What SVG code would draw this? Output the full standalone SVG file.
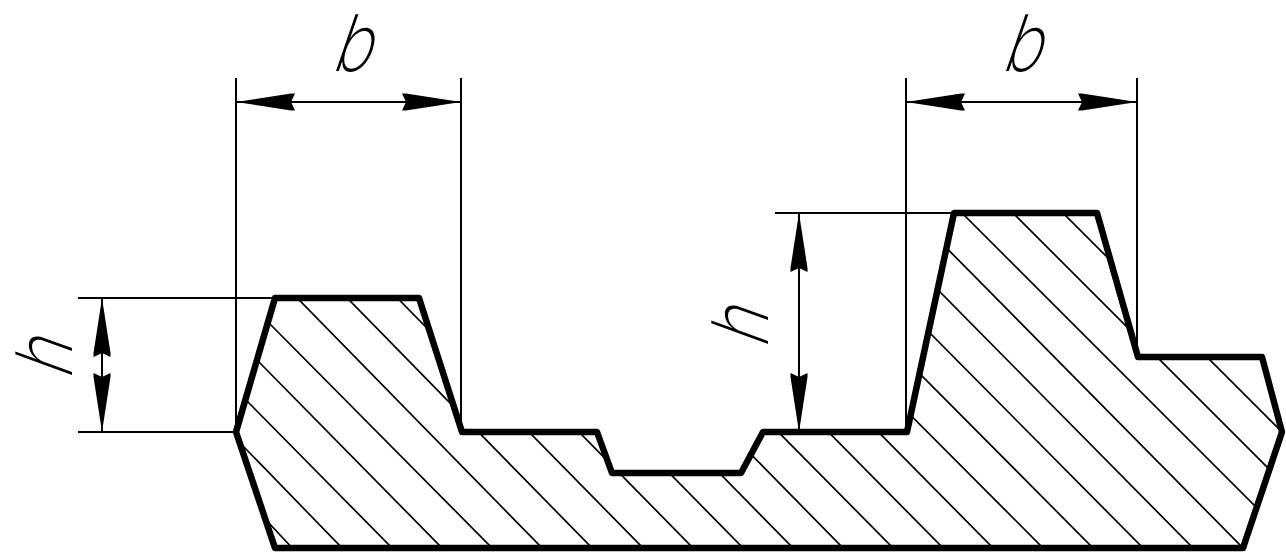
<svg xmlns="http://www.w3.org/2000/svg" width="1286" height="554" viewBox="0 0 1286 554">
<style>
.dim{fill:none;stroke:#000;stroke-width:2}
.hatch{fill:none;stroke:#000;stroke-width:1.7}
.outline{fill:none;stroke:#000;stroke-width:6.5;stroke-linejoin:round;stroke-linecap:round}
.label{font-family:"Inter","Liberation Sans",sans-serif;font-weight:200;font-size:78px;fill:#000}
</style>
<defs>
<clipPath id="profile"><path d="M236,432L275,298L419,298L462,432L597,432L612,473L741,473L763,432L907,432L954,213L1097,213L1138,357L1262,357L1282,432L1243,548L275,548Z"/></clipPath>
<marker id="tip" markerUnits="userSpaceOnUse" markerWidth="62" markerHeight="20" refX="60" refY="10" orient="auto-start-reverse" viewBox="0 0 62 20"><path d="M60,10L5,1.5L1,1.5L5,10L1,18.5L5,18.5Z" fill="#000"/></marker>
</defs>
<rect width="1286" height="554" fill="#fff"/>
<g id="hatching" clip-path="url(#profile)">
<path class="hatch" d="M268,522L294,550M243,446L344,550M246,400L394,550M256,359L444,550M265,319L494,550M260,260L544,550M310,260L594,550M360,260L645,550M410,260L695,550M460,260L745,550M510,260L795,550M560,260L845,550M559,210L895,550M609,210L945,550M659,210L995,550M706,210L1045,550M757,210L1095,550M808,210L1145,550M859,210L1195,550M909,210L1245,550M959,210L1300,551M1010,210L1300,500M1060,210L1300,450"/>
</g>
<g id="profile-outline">
<path class="outline" d="M236,432L275,298L419,298L462,432L597,432L612,473L741,473L763,432L907,432L954,213L1097,213L1138,357L1262,357L1282,432L1243,548L275,548Z"/>
</g>
<g id="connectors">
<path class="dim" d="M236,78V432M461,78V432M906,78V432M1137,78V357M78,298H275M78,432H236M775,213H954"/>
<line class="dim" x1="236" y1="102" x2="461" y2="102" marker-start="url(#tip)" marker-end="url(#tip)"/>
<line class="dim" x1="906" y1="102" x2="1137" y2="102" marker-start="url(#tip)" marker-end="url(#tip)"/>
<line class="dim" x1="102" y1="298" x2="102" y2="432" marker-start="url(#tip)" marker-end="url(#tip)"/>
<line class="dim" x1="799" y1="213" x2="799" y2="432" marker-start="url(#tip)" marker-end="url(#tip)"/>
</g>
<g id="label-b-left"><text class="label" transform="translate(330,71) skewX(-19) scale(0.85,1)">b</text></g>
<g id="label-b-right"><text class="label" transform="translate(1000,71) skewX(-19) scale(0.85,1)">b</text></g>
<g id="label-h-left"><text class="label" transform="translate(72,381) rotate(-90) skewX(-20) scale(0.85,1)">h</text></g>
<g id="label-h-right"><text class="label" transform="translate(768,350) rotate(-90) skewX(-20) scale(0.85,1)">h</text></g>
</svg>
